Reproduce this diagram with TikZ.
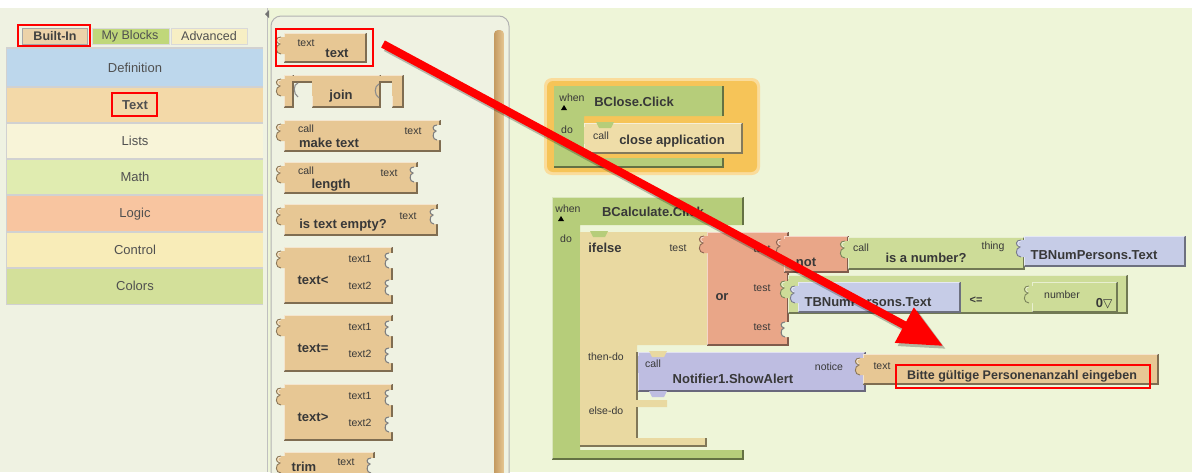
\documentclass[tikz,border=0pt]{standalone}
\usepackage{fontspec}
\setmainfont{Liberation Sans}
\newfontfamily\dvsans{DejaVu Sans}
\usetikzlibrary{arrows.meta}
\definecolor{wsbg}{HTML}{EEF5D8}
\definecolor{pnbg}{HTML}{EFF2E2}
\definecolor{tanB}{HTML}{E7C794}
\definecolor{evG}{HTML}{B6CD7A}
\definecolor{lgG}{HTML}{CDDC98}
\definecolor{sal}{HTML}{E9A688}
\definecolor{lav}{HTML}{C6CCE7}
\definecolor{lavN}{HTML}{BEBDE1}
\definecolor{ifY}{HTML}{E9D9A1}
\definecolor{callY}{HTML}{EFDDA8}
\definecolor{glow}{HTML}{F6C458}
\definecolor{txtc}{HTML}{505050}
\definecolor{blkt}{HTML}{383838}
\definecolor{cDefC}{HTML}{BDD7EC}
\definecolor{cTextC}{HTML}{F3D9A8}
\definecolor{cListC}{HTML}{F8F4D8}
\definecolor{cMathC}{HTML}{E0ECB0}
\definecolor{cLogC}{HTML}{F8C5A0}
\definecolor{cCtrlC}{HTML}{F8ECB8}
\definecolor{cColC}{HTML}{D3E09A}
\definecolor{tabG}{HTML}{C0D77A}
\definecolor{tabY}{HTML}{F7EFC4}
\definecolor{scrA}{HTML}{C49A60}
\definecolor{scrB}{HTML}{E6C692}
\newcommand\blk[5]{%
  \fill[#1] (#2,#3) rectangle (#4,#5);
  \draw[#1!55!black, line width=1.2pt] (#2,#5) -- (#4,#5) -- (#4,#3);
  \draw[white, opacity=.55, line width=1pt] (#2,#5) -- (#2,{#3+21});
  \draw[white, opacity=.55, line width=1pt] (#2,{#3+4}) -- (#2,#3) -- (#4,#3);}
\newcommand\plugL[3]{%
  \fill[#1] ({#2+1},{#3+4}) -- ({#2-3},{#3+4}) .. controls ({#2-9},{#3+4}) and ({#2-9},{#3+10}) .. ({#2-4},{#3+11}) .. controls ({#2-9},{#3+12}) and ({#2-9},{#3+21}) .. ({#2-3},{#3+21}) -- ({#2+1},{#3+21}) -- cycle;
  \draw[#1!60!black, line width=0.9pt] ({#2-3},{#3+4}) .. controls ({#2-9},{#3+4}) and ({#2-9},{#3+10}) .. ({#2-4},{#3+11}) .. controls ({#2-9},{#3+12}) and ({#2-9},{#3+21}) .. ({#2-3},{#3+21});
  \draw[white, opacity=.6, line width=0.8pt] ({#2-3},{#3+5}) .. controls ({#2-7},{#3+5}) and ({#2-7},{#3+9}) .. ({#2-4},{#3+10});}
\newcommand\sockR[3]{%
  \fill[#1] ({#2+1},{#3+3}) -- ({#2-3},{#3+3}) .. controls ({#2-8},{#3+3}) and ({#2-8},{#3+8}) .. ({#2-4},{#3+9}) .. controls ({#2-8},{#3+10}) and ({#2-8},{#3+18}) .. ({#2-3},{#3+18}) -- ({#2+1},{#3+18}) -- cycle;
  \draw[black!50, line width=1.1pt] ({#2-3},{#3+3}) .. controls ({#2-8},{#3+3}) and ({#2-8},{#3+8}) .. ({#2-4},{#3+9}) .. controls ({#2-8},{#3+10}) and ({#2-8},{#3+18}) .. ({#2-3},{#3+18});}
\tikzset{
  cat/.style={font=\fontsize{13}{15}\selectfont, text=txtc, inner sep=0pt},
  bd/.style={font=\bfseries\fontsize{13}{15}\selectfont, text=blkt, inner sep=0pt},
  sm/.style={font=\fontsize{10.5}{12}\selectfont, text=blkt, inner sep=0pt},
  redbox/.style={draw=red, line width=2.5pt, fill=none, inner sep=0pt},
}
\begin{document}
\begin{tikzpicture}[x=1pt,y=-1pt]
\useasboundingbox (0,0) rectangle (1192,472);
% backgrounds
\fill[white] (0,0) rectangle (1192,8);
\fill[pnbg] (0,8) rectangle (268,472);
\fill[wsbg] (268,8) rectangle (1192,472);
\draw[black!25, line width=1pt] (267,8) -- (267,472);
\fill[black!55] (265,14) -- (269,10) -- (269,18) -- cycle;
\draw[fill=pnbg, draw=black!30, line width=1pt, rounded corners=10pt] (271,480) -- (271,16) -- (509,16) -- (509,480);
% scrollbar
\shade[left color=scrA, right color=scrB, rounded corners=4pt] (494,30) rectangle (504,480);
% ---------- left palette ----------
\fill[black!18] (6,47) rectangle (263,305);
\fill[cDefC] (7,49) rectangle (263,86);
\fill[cTextC] (7,88) rectangle (263,122);
\fill[cListC] (7,124) rectangle (263,158);
\fill[cMathC] (7,160) rectangle (263,194);
\fill[cLogC] (7,196) rectangle (263,231);
\fill[cCtrlC] (7,233) rectangle (263,267);
\fill[cColC] (7,269) rectangle (263,304);
\node[cat] (cdef) at (135,68) {Definition};
\node[cat, font=\bfseries\fontsize{13}{15}\selectfont] (ctext) at (135,105) {Text};
\node[cat] (clists) at (135,141) {Lists};
\node[cat] (cmath) at (135,177) {Math};
\node[cat] (clogic) at (135,214) {Logic};
\node[cat] (cctrl) at (135,250) {Control};
\node[cat] (ccol) at (135,286) {Colors};
\draw[redbox] (112,93) rectangle (157,116);
% tabs
\fill[tanB!80!white, draw=black!35] (22,28) rectangle (87,44);
\fill[tabG, draw=black!15] (92,28) rectangle (169,44);
\fill[tabY, draw=black!15] (171,28) rectangle (247,44);
\node[cat, font=\bfseries\fontsize{12.5}{14}\selectfont, text=black!75] (tbi) at (55,36) {Built-In};
\node[cat, font=\fontsize{12.5}{14}\selectfont] (tmb) at (130,36) {My Blocks};
\node[cat, font=\fontsize{12.5}{14}\selectfont] (tadv) at (209,36) {Advanced};
\draw[redbox] (18,25) rectangle (90,46);
% ---------- drawer blocks ----------
% text
\blk{tanB}{284}{33}{366}{62}\plugL{tanB}{284}{33}
\node[sm] (d1a) at (306,43) {text};
\node[bd] (d1b) at (337,53) {text};
\draw[redbox] (276,29) rectangle (373,66);
\coordinate (selR) at (383,44);
% join
\blk{tanB}{284}{75}{403}{82}
\blk{tanB}{284}{75}{293}{107}
\blk{tanB}{312}{75}{380}{107}
\blk{tanB}{392}{75}{403}{107}
\fill[tanB] (285,76) rectangle (402,81);
\plugL{tanB}{284}{75}
\draw[black!45, line width=1.1pt] (298,83) .. controls (293,84) and (293,94) .. (298,97);
\draw[black!45, line width=1.1pt] (379,84) .. controls (374,86) and (374,95) .. (379,98);
\node[bd] (d2) at (341,96) {join};
% make text
\blk{tanB}{284}{120}{440}{151}\plugL{tanB}{284}{120}\sockR{pnbg}{440}{122}
\node[sm] (d3a) at (306,129) {call};
\node[bd] (d3b) at (329,143) {make text};
\node[sm] (d3c) at (413,131) {text};
% length
\blk{tanB}{284}{162}{417}{193}\plugL{tanB}{284}{162}\sockR{pnbg}{417}{164}
\node[sm] (d4a) at (306,171) {call};
\node[bd] (d4b) at (331,185) {length};
\node[sm] (d4c) at (389,173) {text};
% is text empty
\blk{tanB}{284}{204}{437}{235}\plugL{tanB}{284}{204}\sockR{pnbg}{437}{206}
\node[bd] (d5a) at (343,225) {is text empty?};
\node[sm] (d5b) at (408,216) {text};
% compare blocks
\blk{tanB}{284}{247}{392}{303}\plugL{tanB}{284}{247}\sockR{pnbg}{392}{250}\sockR{pnbg}{392}{277}
\node[sm] (d6a) at (360,259) {text1};
\node[sm] (d6b) at (360,286) {text2};
\node[bd] (d6c) at (313,280) {text<};
\blk{tanB}{284}{315}{392}{371}\plugL{tanB}{284}{315}\sockR{pnbg}{392}{318}\sockR{pnbg}{392}{345}
\node[sm] (d7a) at (360,327) {text1};
\node[sm] (d7b) at (360,354) {text2};
\node[bd] (d7c) at (313,348) {text=};
\blk{tanB}{284}{384}{392}{440}\plugL{tanB}{284}{384}\sockR{pnbg}{392}{387}\sockR{pnbg}{392}{414}
\node[sm] (d8a) at (360,396) {text1};
\node[sm] (d8b) at (360,423) {text2};
\node[bd] (d8c) at (313,417) {text>};
\blk{tanB}{284}{452}{374}{485}\plugL{tanB}{284}{452}\sockR{pnbg}{374}{455}
\node[sm] (d9a) at (346,462) {text};
\node[bd] (d9b) at (304,467) {trim};
% ---------- workspace ----------
% BClose
\fill[glow!60!white, rounded corners=8pt] (544,78) rectangle (760,175);
\fill[glow, rounded corners=6pt] (547,81) rectangle (757,172);
\fill[evG] (554,86) -- (723,86) -- (723,116) -- (584,116) -- (584,158) -- (723,158) -- (723,167) -- (554,167) -- cycle;
\draw[evG!55!black, line width=1.2pt] (554,167) -- (723,167) -- (723,158);
\draw[evG!55!black, line width=1.2pt] (723,86) -- (723,116);
\fill[black] (561,110) -- (567,110) -- (564,105) -- cycle;
\node[sm] (w1a) at (572,98) {when};
\node[bd] (w1b) at (634,102) {BClose.Click};
\node[sm] (w1c) at (567,130) {do};
\blk{callY}{584}{123}{742}{153}
\fill[evG] (596,122) -- (614,122) -- (611,128) -- (599,128) -- cycle;
\node[sm] (w1d) at (601,136) {call};
\node[bd] (w1e) at (672,141) {close application};
% BCalculate
\fill[evG] (552,197) -- (743,197) -- (743,225) -- (580,225) -- (580,450) -- (743,450) -- (743,459) -- (552,459) -- cycle;
\draw[evG!55!black, line width=1.2pt] (552,459) -- (743,459) -- (743,450);
\draw[evG!55!black, line width=1.2pt] (743,197) -- (743,225);
\draw[white, opacity=.5, line width=1pt] (552,459) -- (552,197) -- (743,197);
\fill[black] (558,221) -- (564,221) -- (561,216) -- cycle;
\node[sm] (w2a) at (568,209) {when};
\node[bd] (w2b) at (653,212) {BCalculate.Click};
\node[sm] (w2c) at (566,239) {do};
% ifelse
\fill[ifY] (580,232) -- (707,232) -- (707,345) -- (637,345) -- (637,400) -- (667,400) -- (667,407) -- (637,407) -- (637,438) -- (706,438) -- (706,446) -- (580,446) -- cycle;
\draw[ifY!55!black, line width=1.1pt] (580,446) -- (706,446) -- (706,438);
\draw[ifY!55!black, line width=1.1pt] (637,352) -- (637,400);
\draw[ifY!55!black, line width=1.1pt] (637,407) -- (637,438);
\fill[evG] (590,231) -- (608,231) -- (605,237) -- (593,237) -- cycle;
\node[bd] (w3a) at (605,248) {ifelse};
\node[sm] (w3b) at (678,248) {test};
\node[sm] (w3c) at (606,357) {then-do};
\node[sm] (w3d) at (606,411) {else-do};
% or
\blk{sal}{707}{232}{788}{345}\plugL{sal}{707}{232}\sockR{wsbg}{788}{319}
\node[bd] (w4a) at (722,297) {or};
\node[sm] (w4b) at (762,249) {test};
\node[sm] (w4c) at (762,288) {test};
\node[sm] (w4d) at (762,327) {test};
% not
\blk{sal}{784}{236}{848}{272}\plugL{sal}{784}{235}
\node[bd] (w5) at (806,262) {not};
% is a number
\blk{lgG}{848}{237}{1024}{269}\plugL{lgG}{848}{237}
\node[sm] (w6a) at (861,248) {call};
\node[bd] (w6b) at (926,258) {is a number?};
\node[sm] (w6c) at (993,247) {thing};
\blk{lav}{1024}{236}{1185}{266}\plugL{lav}{1024}{236}
\node[bd] (w6d) at (1094,255) {TBNumPersons.Text};
% <=
\blk{lgG}{788}{275}{1127}{313}\plugL{lgG}{788}{277}
\blk{lav}{798}{282}{960}{312}\plugL{lav}{798}{282}
\node[bd] (w7a) at (868,302) {TBNumPersons.Text};
\node[bd, font=\bfseries\fontsize{11}{13}\selectfont] (w7b) at (976,300) {<=};
\blk{lgG}{1032}{282}{1117}{312}\plugL{lgG}{1032}{282}
\node[sm] (w7c) at (1062,295) {number};
\node[bd] (w7d) at (1104,304) {0{\dvsans\fontsize{12}{13}\selectfont ▽}};
% Notifier
\blk{lavN}{638}{352}{865}{391}
\fill[ifY] (649,351) -- (667,351) -- (664,357) -- (652,357) -- cycle;
\fill[lavN] (649,391) -- (667,391) -- (664,397) -- (652,397) -- cycle;
\node[sm] (w8a) at (653,364) {call};
\node[bd] (w8b) at (733,379) {Notifier1.ShowAlert};
\node[sm] (w8c) at (829,367) {notice};
% text block
\blk{tanB}{863}{354}{1158}{384}\plugL{tanB}{863}{354}
\node[sm] (w9a) at (882,366) {text};
\node[bd, font=\bfseries\fontsize{12.5}{14}\selectfont] (w9b) at (1022,376) {Bitte gültige Personenanzahl eingeben};
\draw[redbox] (896,365) rectangle (1150,388);
\coordinate (tipE) at (943,346);
% ---------- red arrow ----------
\draw[black, opacity=.25, line width=9pt, -{Triangle[length=44pt,width=38pt]}] ([shift={(3,3)}]selR) -- ([shift={(3,3)}]tipE);
\draw[red, line width=8pt, -{Triangle[length=44pt,width=38pt]}] (selR) -- (tipE);
\end{tikzpicture}
\end{document}
